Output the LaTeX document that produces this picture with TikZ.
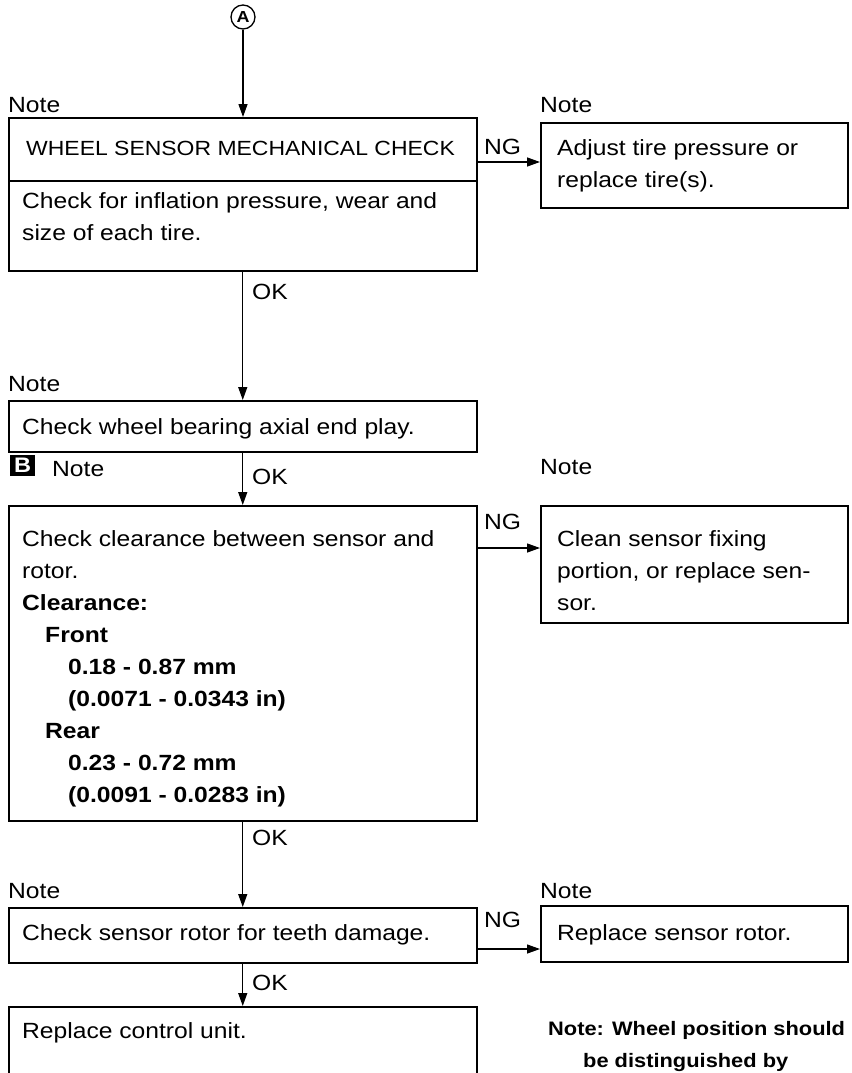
\documentclass[tikz,border=0pt]{standalone}
\usepackage{fontspec}
\setmainfont{Liberation Sans}[FakeStretch=1.12]
\usetikzlibrary{positioning,arrows.meta,calc}
\tikzset{
  frame/.style={draw, line width=1.5pt, anchor=north west, inner sep=0pt, minimum width=468pt},
  sideframe/.style={frame, minimum width=307pt},
  msg/.style={anchor=north west, inner sep=0pt, align=left, font=\fontsize{22}{32}\selectfont},
  tag/.style={anchor=base west, inner sep=0pt, font=\fontsize{22}{26}\selectfont},
  flow/.style={-{Triangle[length=13pt,width=9pt]}, line width=1.3pt},
}

\begin{document}
\begin{tikzpicture}[x=1pt,y=-1pt]
  \useasboundingbox (0,0) rectangle (851,1073);
  \clip (0,0) rectangle (851,1073);
  % entry point
  \node[circle, draw, line width=1.3pt, inner sep=0pt, minimum size=24pt, font=\fontsize{16}{16}\selectfont\bfseries] (cA) at (243,17) {A};

  % frames
  \node[frame, minimum height=63pt] (b1h) at (8,117) {};
  \node[frame, minimum height=90pt] (b1) at (8,180) {};
  \node[sideframe, minimum height=85pt] (b2) at (540,122) {};
  \node[frame, minimum height=51pt] (b3) at (8,400) {};
  \node[frame, minimum height=315pt] (b4) at (8,505) {};
  \node[sideframe, minimum height=117pt] (b5) at (540,505) {};
  \node[frame, minimum height=55pt] (b6) at (8,907) {};
  \node[sideframe, minimum height=56pt] (b7) at (540,905) {};
  \node[frame, minimum height=120pt] (b8) at (8,1006) {};

  % box texts
  \node[msg, font=\fontsize{20.5}{32}\selectfont] (t1h) at (26,141) {WHEEL SENSOR MECHANICAL CHECK};
  \node[msg] (t1) at (22,192) {Check for inflation pressure, wear and\\size of each tire.};
  \node[msg] (t2) at (557,139) {Adjust tire pressure or\\replace tire(s).};
  \node[msg] (t3) at (22,418) {Check wheel bearing axial end play.};
  \node[msg] (t4) at (22,530) {Check clearance between sensor and\\rotor.\\
    \textbf{Clearance:}\\
    \hspace*{23pt}\textbf{Front}\\
    \hspace*{46pt}\textbf{0.18 - 0.87 mm}\\
    \hspace*{46pt}\textbf{(0.0071 - 0.0343 in)}\\
    \hspace*{23pt}\textbf{Rear}\\
    \hspace*{46pt}\textbf{0.23 - 0.72 mm}\\
    \hspace*{46pt}\textbf{(0.0091 - 0.0283 in)}};
  \node[msg] (t5) at (557,530) {Clean sensor fixing\\portion, or replace sen-\\sor.};
  \node[msg] (t6) at (22,924) {Check sensor rotor for teeth damage.};
  \node[msg] (t7) at (557,924) {Replace sensor rotor.};
  \node[msg] (t8) at (22,1022) {Replace control unit.};
  \node[msg, font=\fontsize{19.5}{32}\selectfont\bfseries] (fn) at (548,1021) {Note: Wheel position should\\\hspace*{35pt}be distinguished by};

  % note tags
  \node[tag] (n1) at (8,112) {Note};
  \node[tag] (n2) at (540,112) {Note};
  \node[tag] (n3) at (8,391) {Note};
  \node[fill=black, text=white, inner sep=1.5pt, minimum width=25pt, minimum height=21pt, font=\fontsize{21}{21}\selectfont\bfseries, anchor=north west] (mkB) at (10,455) {B};
  \node[tag] (n4) at (52,476) {Note};
  \node[tag] (n5) at (540,474) {Note};
  \node[tag] (n6) at (8,898) {Note};
  \node[tag] (n7) at (540,898) {Note};

  % flow
  \draw[flow] (cA.south) -- (cA.south |- b1h.north);
  \draw[flow] (b1.south) -- (b3.north);
  \draw[flow] (b3.south) -- (b4.north);
  \draw[flow] (b4.south) -- (b6.north);
  \draw[flow] (b6.south) -- (b8.north);
  \draw[flow] ([yshift=-45pt]b1h.north east) coordinate (ng1) -- (ng1 -| b2.west);
  \draw[flow] ([yshift=-43pt]b4.north east) coordinate (ng2) -- (ng2 -| b5.west);
  \draw[flow] ([yshift=-42pt]b6.north east) coordinate (ng3) -- (ng3 -| b7.west);

  \node[tag] (ok1) at (252,299) {OK};
  \node[tag] (ok2) at (252,484) {OK};
  \node[tag] (ok3) at (252,845) {OK};
  \node[tag] (ok4) at (252,990) {OK};
  \node[tag] (ng1t) at (484,154) {NG};
  \node[tag] (ng2t) at (484,529) {NG};
  \node[tag] (ng3t) at (484,927) {NG};
\end{tikzpicture}
\end{document}
